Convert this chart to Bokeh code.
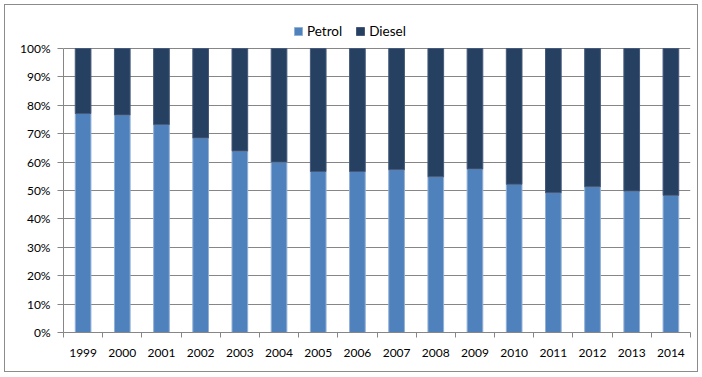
from bokeh.plotting import figure
from bokeh.models import (ColumnDataSource, FixedTicker, LinearAxis, Legend, LegendItem,
                          NumeralTickFormatter, Range1d)
from bokeh.embed import file_html
from bokeh.resources import INLINE

years = ["1999", "2000", "2001", "2002", "2003", "2004", "2005", "2006",
         "2007", "2008", "2009", "2010", "2011", "2012", "2013", "2014"]
petrol_pct = [77.1, 76.6, 73.2, 68.5, 63.9, 60.0, 56.7, 56.7,
              57.3, 54.8, 57.6, 52.2, 49.2, 51.3, 49.8, 48.3]
diesel_pct = [100 - v for v in petrol_pct]
y_ticks = [0, 0.1, 0.2, 0.3, 0.4, 0.5, 0.6, 0.7, 0.8, 0.9, 1.0]

idx = list(range(len(years)))
src = ColumnDataSource(dict(
    x=idx,
    petrol=[v / 100 for v in petrol_pct],
    diesel=[v / 100 for v in diesel_pct],
))

FONT = "Lato"
FS = "12px"
GRID = "#868686"

# frame: 0..100% spans 284 px, extra room on top holds the legend
p = figure(width=692, height=366, x_range=Range1d(-0.5, len(years) - 0.5),
           y_range=Range1d(0, 313 / 284), output_backend="svg", toolbar_location=None,
           min_border_left=58, min_border_right=7,
           min_border_top=14, min_border_bottom=39)
p.margin = (5, 5, 6, 5)
p.styles = {"outline": "1px solid #8c8c8c"}
p.outline_line_color = None

rs = p.vbar_stack(["petrol", "diesel"], x="x", width=0.4,
                  color=["#4F81BD", "#254061"], source=src,
                  line_color=["#93b1d6", "#46597a"], line_width=1)

ya = p.yaxis[0]
ya.ticker = FixedTicker(ticks=y_ticks)
ya.bounds = (0, 1)
ya.formatter = NumeralTickFormatter(format="0%")
ya.axis_line_color = GRID
ya.major_tick_line_color = GRID
ya.major_tick_out = 6
ya.major_tick_in = 0
ya.minor_tick_line_color = None
ya.major_label_text_font = FONT
ya.major_label_text_font_size = FS
ya.major_label_text_color = "black"
ya.major_label_standoff = 7

p.ygrid.ticker = FixedTicker(ticks=y_ticks)
p.ygrid.grid_line_color = GRID
p.xgrid.visible = False

# x axis carrying tick marks at category boundaries
bounds = [i - 0.5 for i in range(len(years) + 1)]
xa = p.xaxis[0]
xa.ticker = FixedTicker(ticks=bounds)
xa.major_label_overrides = {b: "" for b in bounds}
xa.axis_line_color = GRID
xa.major_tick_line_color = GRID
xa.major_tick_out = 5
xa.major_tick_in = 0
xa.minor_tick_line_color = None
xa.major_label_standoff = 0

# x axis carrying the year labels at category centres
xl = LinearAxis(ticker=FixedTicker(ticks=idx),
                major_label_overrides={i: y for i, y in zip(idx, years)})
xl.axis_line_color = None
xl.major_tick_line_color = None
xl.minor_tick_line_color = None
xl.major_label_text_font = FONT
xl.major_label_text_font_size = FS
xl.major_label_text_color = "black"
xl.major_label_standoff = 5
p.add_layout(xl, "below")

legend = Legend(items=[LegendItem(label="Petrol", renderers=[rs[0]]),
                       LegendItem(label="Diesel", renderers=[rs[1]])],
                orientation="horizontal", location=(230, 293),
                border_line_color=None, background_fill_alpha=0,
                glyph_width=10, glyph_height=10,
                label_text_font=FONT, label_text_font_size="13.5px",
                label_text_color="black",
                label_standoff=4, spacing=13, padding=4, margin=0)
p.add_layout(legend, "center")

open("out.html", "w").write(file_html(p, INLINE))
